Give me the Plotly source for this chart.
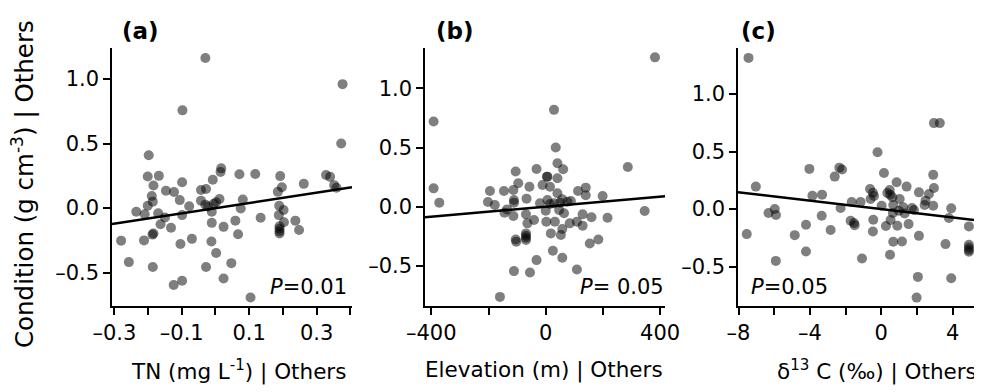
import plotly.graph_objects as go

# ---------------- data ----------------
tn_x = [-0.030, -0.098, 0.377, 0.373, -0.198, -0.201, -0.168, -0.184, -0.189, -0.201,
        -0.186, -0.235, -0.210, -0.170, -0.147, -0.123, -0.106, -0.099, -0.078, -0.099,
        -0.163, -0.150, -0.132, -0.187, -0.184, -0.280, -0.212, -0.257, -0.186, -0.124,
        -0.099, -0.104, -0.070, -0.043, -0.028, -0.008, 0.017, 0.015, -0.043, -0.030,
        -0.022, -0.005, 0.002, -0.011, -0.011, -0.012, 0.002, -0.028, 0.024, 0.024,
        0.012, 0.047, 0.059, 0.067, 0.075, 0.081, 0.071, 0.118, 0.134, 0.104,
        0.192, 0.197, 0.185, 0.189, 0.202, 0.188, 0.203, 0.190, 0.190, 0.190,
        0.190, 0.237, 0.248, 0.262, 0.328, 0.340, 0.352, 0.359]
cond_a = [1.163, 0.757, 0.960, 0.500, 0.410, 0.245, 0.250, 0.175, 0.094, 0.018,
          0.050, -0.028, -0.047, -0.040, 0.134, 0.125, 0.062, 0.200, 0.015, -0.054,
          -0.125, -0.073, -0.152, -0.205, -0.197, -0.252, -0.250, -0.418, -0.456, -0.595,
          -0.563, -0.278, -0.238, 0.140, 0.148, 0.220, 0.308, 0.280, 0.058, 0.027,
          0.013, 0.034, 0.045, -0.028, -0.114, -0.258, -0.347, -0.456, -0.145, -0.545,
          0.070, -0.426, -0.097, -0.203, -0.003, 0.067, 0.262, 0.264, -0.075, -0.692,
          0.248, 0.162, 0.126, 0.018, -0.015, -0.054, -0.110, -0.140, -0.160, -0.180,
          -0.197, -0.097, -0.170, 0.188, 0.257, 0.242, 0.178, 0.158]

elev_x = [-392, -392, -372, -195, -202, -178, -146, -111, -111, -96,
          -105, -113, -135, -144, -113, -69, -64, -67, -57, -41,
          -32, -20, -105, -103, -69, -69, -69, -69, -111, -55,
          -32, -160, -11, 4, 15, 6, 29, 35, 41, 61,
          41, 41, 58, 6, 15, 0, 2, 32, 47, 64,
          58, 53, 18, 25, 58, 76, 88, 84, 109, 109,
          129, 129, 113, 140, 140, 160, 154, 184, 199, 216,
          287, 346, 50, 29, 382]
cond_b = [0.720, 0.155, 0.034, 0.133, 0.040, 0.014, 0.133, 0.056, 0.034, 0.198,
          0.297, 0.141, -0.023, -0.051, -0.079, -0.065, -0.141, 0.068, 0.169, -0.113,
          0.319, 0.028, -0.277, -0.297, -0.226, -0.246, -0.263, -0.282, -0.545, -0.556,
          -0.452, -0.763, 0.184, 0.254, 0.169, 0.254, 0.819, 0.500, 0.367, 0.316,
          0.240, 0.113, 0.062, 0.056, 0.023, -0.034, -0.127, -0.127, -0.028, -0.056,
          -0.189, -0.240, -0.226, -0.373, -0.432, 0.042, 0.048, -0.141, -0.127, -0.531,
          -0.065, -0.161, 0.133, 0.161, 0.096, -0.090, -0.311, -0.277, 0.090, -0.093,
          0.336, -0.037, 0.034, 0.028, 1.263]

d13c_x = [-7.44, -7.54, -7.03, -6.32, -5.97, -5.90, -5.91, -4.85, -4.22, -4.22,
          -4.03, -3.86, -3.32, -3.34, -2.84, -2.61, -2.35, -2.20, -2.28, -1.66,
          -1.16, -1.72, -1.53, -1.49, -1.08, -0.63, -0.47, -0.41, -0.60, -0.45,
          -0.47, -0.21, 0.15, 0.02, 0.26, 0.47, 0.50, 0.62, 0.67, 0.65,
          0.52, 0.49, 0.86, 0.90, 0.99, 0.67, 1.16, 1.42, 1.53, 1.23,
          1.31, 1.83, 1.72, 2.11, 2.11, 2.05, 1.98, 2.67, 2.48, 2.43,
          2.91, 2.95, 2.91, 2.95, 3.28, 3.60, 3.79, 3.92, 3.92, 4.91,
          4.91, 4.91, 4.91, 4.91, 1.03, 0.34]
cond_c = [1.314, -0.218, 0.195, -0.035, 0.000, -0.052, -0.451, -0.227, -0.137, -0.369,
          0.349, 0.116, 0.125, -0.058, -0.183, 0.282, 0.360, 0.343, 0.009, 0.061,
          0.061, -0.102, -0.122, -0.140, -0.430, 0.174, 0.142, 0.113, 0.087, -0.093,
          -0.195, 0.494, 0.314, 0.029, -0.148, 0.166, 0.125, 0.102, 0.035, -0.035,
          -0.096, -0.398, 0.233, -0.145, -0.015, -0.285, -0.282, 0.195, -0.131, 0.015,
          -0.038, -0.009, 0.009, 0.145, -0.233, -0.590, -0.770, 0.131, 0.073, 0.035,
          0.297, 0.183, 0.029, 0.747, 0.747, -0.305, -0.078, 0.006, -0.602, -0.151,
          -0.311, -0.334, -0.355, -0.372, 0.087, 0.140]

# partial-regression fits: (intercept, slope)
fit_a = (0.0, 0.398)
fit_b = (0.0, 0.000213)
fit_c = (0.0, -0.0183)

p_labels = ["<i>P</i>=0.01", "<i>P</i>= 0.05", "<i>P</i>=0.05"]
panel_labels = ["(a)", "(b)", "(c)"]

y_tickvals = [-0.5, 0.0, 0.5, 1.0]
y_ticktext = ["\u20130.5", "0.0", "0.5", "1.0"]
# labelled ticks and unlabelled ticks for each x axis
xa_tickvals = [-0.3, -0.1, 0.1, 0.3]
xa_ticktext = ["\u20130.3", "\u20130.1", "0.1", "0.3"]
xa_minor = [-0.2, 0.0, 0.2, 0.4]
xb_tickvals = [-400, 0, 400]
xb_ticktext = ["\u2013400", "0", "400"]
xb_minor = [-200, 200]
xc_tickvals = [-8, -4, 0, 4]
xc_ticktext = ["\u20138", "\u20134", "0", "4"]
xc_minor = [-6, -2, 2]

x_titles = ["TN (mg L<sup>-1</sup>) | Others",
            "Elevation (m) | Others",
            "\u03b4<sup>13</sup> C (\u2030) | Others"]
y_title = "Condition (g cm<sup>-3</sup>) | Others"

# ---------------- layout geometry ----------------
# page pixels -> figure (the page body has an 8px margin)
PAGE_W, PAGE_H, OFF = 982, 392, 8
W, H = PAGE_W - OFF, PAGE_H - OFF


def px(x):
    return (x - OFF) / W


def py(y):
    return (PAGE_H - y) / H


FONT = "DejaVu Sans, Liberation Sans, Arial, sans-serif"
x_domains = [[px(112), px(352)], [px(425), px(665)], [px(738), px(978)]]
y_domain = [py(306), py(48)]
x_ranges = [[-0.307, 0.405], [-422, 417], [-8.03, 5.42]]
y_ranges = [[-0.758, 1.240], [-0.840, 1.342], [-0.843, 1.400]]

xs = [tn_x, elev_x, d13c_x]
ys = [cond_a, cond_b, cond_c]
fits = [fit_a, fit_b, fit_c]
xticks = [(xa_tickvals, xa_ticktext, xa_minor),
          (xb_tickvals, xb_ticktext, xb_minor),
          (xc_tickvals, xc_ticktext, xc_minor)]

fig = go.Figure()
layout = dict(
    width=W, height=H, margin=dict(l=0, r=0, t=0, b=0, pad=0, autoexpand=False),
    paper_bgcolor="white", plot_bgcolor="white", showlegend=False,
    font=dict(family=FONT, size=21, color="black"),
)

annotations = []
for i in range(3):
    sfx = "" if i == 0 else str(i + 1)
    xref, yref = "x" + sfx, "y" + sfx
    fig.add_trace(go.Scatter(
        x=xs[i], y=ys[i], mode="markers", xaxis=xref, yaxis=yref,
        marker=dict(size=10, color="rgba(0,0,0,0.5)", line=dict(width=0)),
        hoverinfo="skip"))
    b0, b1 = fits[i]
    xr = x_ranges[i]
    fig.add_trace(go.Scatter(
        x=xr, y=[b0 + b1 * xr[0], b0 + b1 * xr[1]], mode="lines",
        xaxis=xref, yaxis=yref, line=dict(color="black", width=2.5),
        hoverinfo="skip"))
    tv, tt, mv = xticks[i]
    layout["xaxis" + sfx] = dict(
        domain=x_domains[i], range=xr, anchor=yref, automargin=False,
        showgrid=False, zeroline=False, showline=True, linecolor="black", linewidth=1.5,
        ticks="outside", ticklen=7, tickwidth=1.5, tickcolor="black",
        tickmode="array", tickvals=tv, ticktext=tt, tickfont=dict(size=21, family=FONT),
        minor=dict(tickmode="array", tickvals=mv, ticks="outside", ticklen=7,
                   tickwidth=1.5, tickcolor="black", showgrid=False))
    layout["yaxis" + sfx] = dict(
        domain=y_domain, range=y_ranges[i], anchor=xref, automargin=False,
        showgrid=False, zeroline=False, showline=True, linecolor="black", linewidth=1.5,
        ticks="outside", ticklen=7, tickwidth=1.5, tickcolor="black",
        tickmode="array", tickvals=y_tickvals, ticktext=y_ticktext,
        tickfont=dict(size=21, family=FONT))

# panel labels
for lab, xc in zip(panel_labels, [140, 455, 758]):
    annotations.append(dict(text="<b>%s</b>" % lab, x=px(xc), y=py(31),
                            xref="paper", yref="paper", showarrow=False,
                            xanchor="center", yanchor="middle",
                            font=dict(size=23, family=FONT)))
# x titles
for t, xc in zip(x_titles, [238, 544, 877]):
    annotations.append(dict(text=t, x=px(xc), y=py(370),
                            xref="paper", yref="paper", showarrow=False,
                            xanchor="center", yanchor="middle",
                            font=dict(size=21.5, family=FONT)))
# y title
annotations.append(dict(text=y_title, x=px(23), y=py(184), textangle=-90,
                        xref="paper", yref="paper", showarrow=False,
                        xanchor="center", yanchor="middle",
                        font=dict(size=24.5, family=FONT)))
# P values
annotations.append(dict(text=p_labels[0], x=px(349), y=py(287), xref="paper", yref="paper",
                        showarrow=False, xanchor="right", yanchor="middle", font=dict(size=21, family=FONT)))
annotations.append(dict(text=p_labels[1], x=px(666), y=py(287), xref="paper", yref="paper",
                        showarrow=False, xanchor="right", yanchor="middle", font=dict(size=21, family=FONT)))
annotations.append(dict(text=p_labels[2], x=px(749), y=py(287), xref="paper", yref="paper",
                        showarrow=False, xanchor="left", yanchor="middle", font=dict(size=21, family=FONT)))

layout["annotations"] = annotations
fig.update_layout(**layout)
fig.write_html("out.html")
